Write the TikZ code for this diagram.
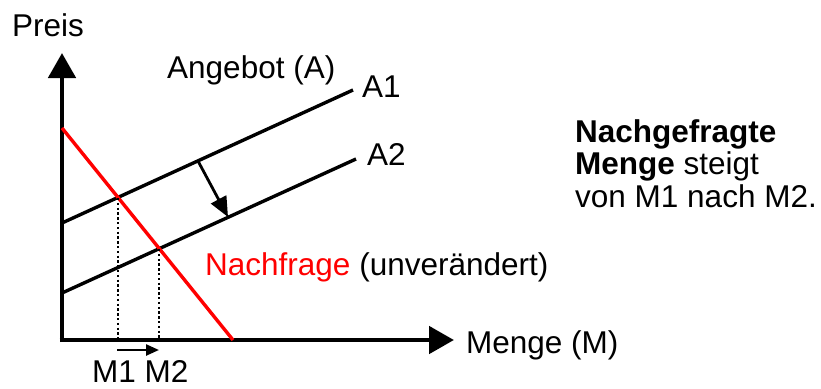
\documentclass[tikz,border=0pt]{standalone}
\usepackage{fontspec}
\setmainfont{Liberation Sans}
\usetikzlibrary{arrows.meta}

\begin{document}
\begin{tikzpicture}[x=1pt,y=-1pt,
	every node/.style={inner sep=0pt,anchor=base west,font=\fontsize{31.5}{33}\selectfont},
	achse/.style={line width=4.8pt,-{Triangle[length=25pt,width=27pt]}},
	kurve/.style={line width=3.4pt},
	hilfslinie/.style={line width=2.4pt,dash pattern=on 2.4pt off 2.4pt}]
	\useasboundingbox (0,0) rectangle (821,388);
	% Achsen
	\draw[achse] (62,342) -- (62,53);
	\draw[achse] (59.6,340) -- (454,340);
	\node (preis) at (12,36) {Preis};
	\node (menge) at (466,353) {Menge (M)};
	% Angebotskurven
	\draw[kurve] (62,223) -- (353,90);
	\draw[kurve] (62,293) -- (356,159);
	\node (angebot) at (167,78) {Angebot (A)};
	\node (a1) at (362,97) {A1};
	\node (a2) at (367,165) {A2};
	\draw[line width=2.8pt,-{Triangle[length=20pt,width=17pt]}] (198,161) -- (228,217);
	% Nachfrage
	\draw[kurve,red] (62,128) -- (233,340);
	\node (nachfrage) at (205,275) {\textcolor{red}{Nachfrage} (unverändert)};
	% Mengen
	\draw[hilfslinie] (118,198) -- (118,338);
	\draw[hilfslinie] (159,249) -- (159,338);
	\draw[line width=2.4pt,-{Triangle[length=13pt,width=11pt]}] (117,350) -- (159,350);
	\node (m) at (92,382) {M1 M2};
	% Erklaerung
	\node (z1) at (575,142) {\textbf{Nachgefragte}};
	\node (z2) at (575,174) {\textbf{Menge} steigt};
	\node (z3) at (575,207) {von M1 nach M2.};
\end{tikzpicture}
\end{document}
